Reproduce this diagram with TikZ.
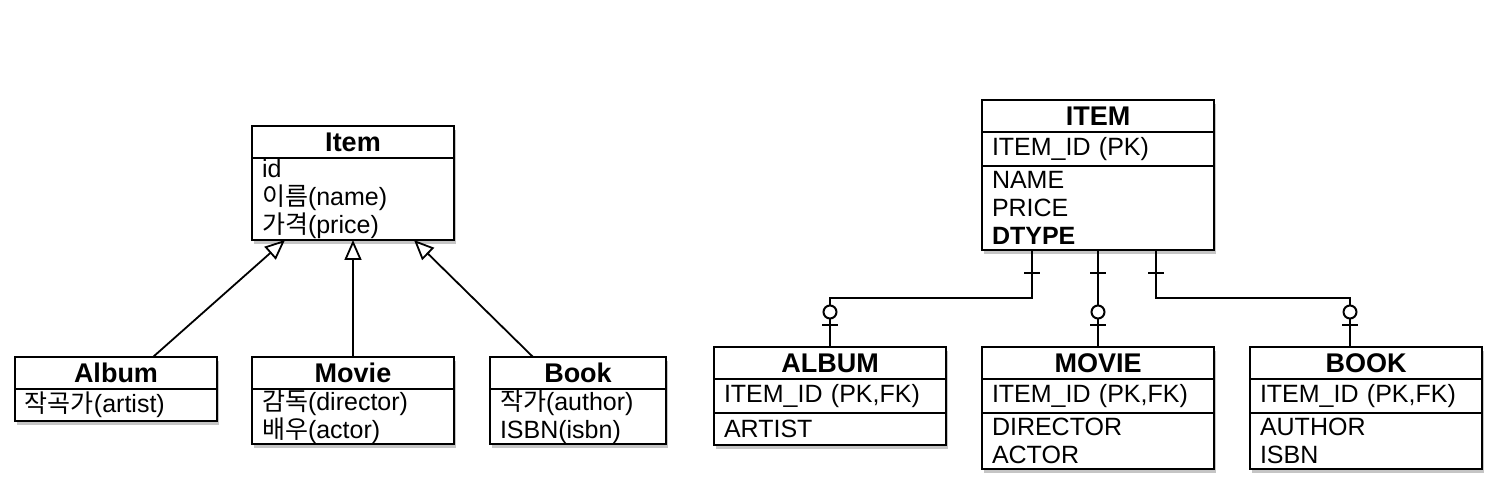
\documentclass[tikz,border=0pt]{standalone}
\usepackage{fontspec}
\setmainfont{Liberation Sans}
\newfontfamily\kr{Noto Sans CJK KR}
\usetikzlibrary{positioning}
\usetikzlibrary{arrows.meta}
\usetikzlibrary{shadows}

\begin{document}
\begin{tikzpicture}[
  x=0.5pt, y=-0.5pt,
  boxshadow/.style={drop shadow={shadow xshift=1pt,shadow yshift=-1.8pt,opacity=.45}},
  hdr/.style={draw,fill=white,line width=1.2pt,outer sep=0pt,inner sep=0pt,
    minimum height=16pt,font=\bfseries\fontsize{13.5}{15}\selectfont,boxshadow},
  fld/.style={draw,fill=white,line width=1.2pt,outer sep=0pt,inner xsep=5pt,
    inner ysep=0pt,align=left,font=\fontsize{12.5}{14}\selectfont,boxshadow},
  gen/.style={-{Triangle[open,length=10pt,width=8.5pt]},line width=0.9pt},
  rel/.style={line width=1pt}
]

  \fill[white] (0,0) rectangle (1498,490);

  % class diagram
  \node[hdr, minimum width=101pt, anchor=north west] (item) at (252,126) {Item};
  \node[fld, text width=91pt, minimum height=41pt, below=0pt of item] (itemf)
    {id\\{\kr 이름}(name)\\{\kr 가격}(price)};

  \node[hdr, minimum width=101pt, anchor=north west] (album) at (15,357) {Album};
  \node[fld, text width=91pt, minimum height=16pt, below=0pt of album] (albumf)
    {{\kr 작곡가}(artist)};

  \node[hdr, minimum width=101pt, anchor=north west] (movie) at (252,357) {Movie};
  \node[fld, text width=91pt, minimum height=27.5pt, below=0pt of movie] (movief)
    {{\kr 감독}(director)\\{\kr 배우}(actor)};

  \node[hdr, minimum width=88pt, anchor=north west] (book) at (490,357) {Book};
  \node[fld, text width=78pt, minimum height=27.5pt, below=0pt of book] (bookf)
    {{\kr 작가}(author)\\ISBN(isbn)};

  \draw[gen] ([xshift=18.5pt]album.north) -- ([xshift=-34pt]itemf.south);
  \draw[gen] (movie.north) -- (itemf.south);
  \draw[gen] ([xshift=-22.5pt]book.north) -- ([xshift=30.5pt]itemf.south);

  % tables
  \node[hdr, minimum width=116pt, anchor=north west] (ITEM) at (982,100) {ITEM};
  \node[fld, text width=106pt, minimum height=17pt, below=0pt of ITEM] (ITEMk) {ITEM\_ID (PK)};
  \node[fld, text width=106pt, minimum height=42pt, below=0pt of ITEMk] (ITEMf)
    {NAME\\PRICE\\\textbf{DTYPE}};

  \node[hdr, minimum width=116pt, anchor=north west] (ALBUM) at (714,347) {ALBUM};
  \node[fld, text width=106pt, minimum height=17pt, below=0pt of ALBUM] (ALBUMk) {ITEM\_ID (PK,FK)};
  \node[fld, text width=106pt, minimum height=16pt, below=0pt of ALBUMk] (ALBUMf) {ARTIST};

  \node[hdr, minimum width=116pt, anchor=north west] (MOVIE) at (982,347) {MOVIE};
  \node[fld, text width=106pt, minimum height=17pt, below=0pt of MOVIE] (MOVIEk) {ITEM\_ID (PK,FK)};
  \node[fld, text width=106pt, minimum height=28pt, below=0pt of MOVIEk] (MOVIEf) {DIRECTOR\\ACTOR};

  \node[hdr, minimum width=116pt, anchor=north west] (BOOK) at (1250,347) {BOOK};
  \node[fld, text width=106pt, minimum height=17pt, below=0pt of BOOK] (BOOKk) {ITEM\_ID (PK,FK)};
  \node[fld, text width=106pt, minimum height=28pt, below=0pt of BOOKk] (BOOKf) {AUTHOR\\ISBN};

  \draw[rel] ([xshift=-33pt]ITEMf.south) -- ++(0,48) -| (ALBUM.north);
  \draw[rel] (ITEMf.south) -- (MOVIE.north);
  \draw[rel] ([xshift=29pt]ITEMf.south) -- ++(0,48) -| ([xshift=-8pt]BOOK.north);

  % one / zero-or-one marks
  \foreach \dx in {-33pt,0pt,29pt}
    \draw[rel] ([xshift=\dx,yshift=-11.5pt]ITEMf.south) ++(-4pt,0) -- ++(8pt,0);
  \foreach \n/\dx in {ALBUM/0pt,MOVIE/0pt,BOOK/-8pt} {
    \draw[rel] ([xshift=\dx,yshift=11pt]\n.north) ++(-4pt,0) -- ++(8pt,0);
    \draw[rel,fill=white] ([xshift=\dx,yshift=17.5pt]\n.north) circle (3.25pt);
  }
\end{tikzpicture}
\end{document}
